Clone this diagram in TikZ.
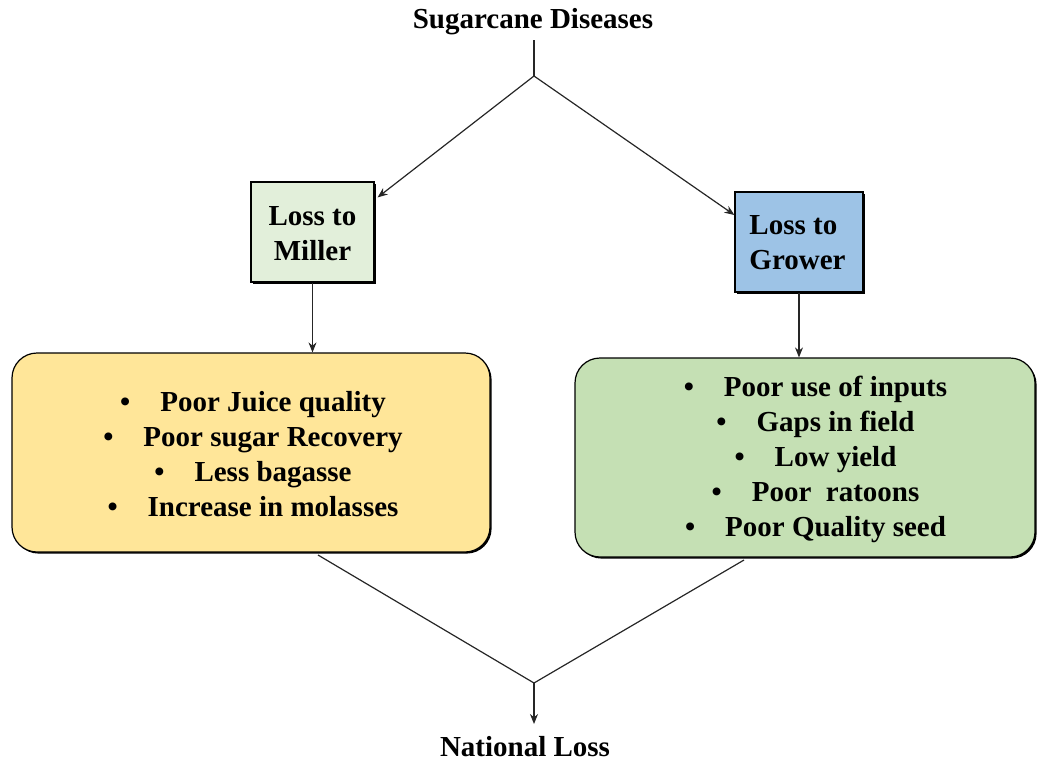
\documentclass[tikz,border=0pt]{standalone}
\usepackage{fontspec}
\setmainfont{Liberation Serif}
\usetikzlibrary{arrows.meta,shadows,calc}
\begin{document}
\begin{tikzpicture}[x=1pt,y=-1pt,
  txt/.style={font=\fontsize{29}{35}\selectfont\bfseries, inner sep=0pt},
  boxshadow/.style={drop shadow={shadow xshift=1.6pt, shadow yshift=-1.6pt, fill=black, opacity=1}},
  lossbox/.style={draw=black, line width=1.2pt, boxshadow, inner sep=0pt},
  listbox/.style={draw=black, line width=1.2pt, rounded corners=25pt, boxshadow, inner sep=0pt},
  link/.style={draw=black!85, line width=1.2pt},
  arr/.style={link, -{Stealth[length=10pt, width=8pt]}}
]
\definecolor{millerfill}{RGB}{226,239,218}
\definecolor{growerfill}{RGB}{157,195,230}
\definecolor{yellowfill}{RGB}{255,230,153}
\definecolor{greenfill}{RGB}{197,224,180}
\newcommand{\bul}[1]{\textbullet\hspace{30pt}#1}

\useasboundingbox (0,0) rectangle (1039,764);

% title and final result
\node[txt] (title) at (533,22) {\bfseries Sugarcane Diseases};
\node[txt] (national) at (525,747) {\bfseries National Loss};

% the two loss boxes
\node[lossbox, fill=millerfill, minimum width=123pt, minimum height=100pt] (miller) at (312.5,232) {};
\node[txt, align=center] (millertxt) at (312.5,233.5) {Loss to\\Miller};
\node[lossbox, fill=growerfill, minimum width=128pt, minimum height=100pt] (grower) at (799,242) {};
\node[txt, align=left] (growertxt) at (797.5,242.5) {Loss to\\Grower};

% the two lists of effects
\node[listbox, fill=yellowfill, minimum width=478pt, minimum height=199pt] (mlist) at (251,452.5) {};
\node[txt, align=center] (mlisttxt) at (253,454) {\bul{Poor Juice quality}\\\bul{Poor sugar Recovery}\\\bul{Less bagasse}\\\bul{Increase in molasses}};
\node[listbox, fill=greenfill, minimum width=460pt, minimum height=199pt] (glist) at (805,457.5) {};
\node[txt, align=center] (glisttxt) at (815.5,459) {\bul{Poor use of inputs}\\\bul{Gaps in field}\\\bul{Low yield}\\\bul{Poor~ ratoons}\\\bul{Poor Quality seed}};

% branch and merge points
\coordinate (split) at (534,76);
\coordinate (merge) at (534,683);
\coordinate (millerend) at ($(miller.north east)+(3,16)$);
\coordinate (mout) at (318,555);
\coordinate (gout) at (744,560);

% connectors
\draw[link] (title.south) ++(1,5) coordinate (titlefoot) -- (split);
\draw[arr] (split) -- (millerend);
\draw[arr] (split) -- (grower.west |- 0,215);
\draw[arr] (miller.south) -- (miller.south |- mlist.north);
\draw[arr] (grower.south) -- (grower.south |- glist.north);
\draw[link] (mout) -- (merge) -- (gout);
\draw[arr] (merge) -- (534,724) coordinate (nattop);
\end{tikzpicture}
\end{document}
